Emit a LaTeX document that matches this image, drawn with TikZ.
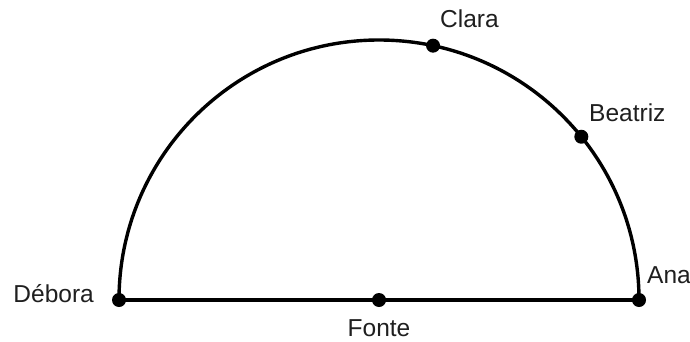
\documentclass[tikz,border=0pt]{standalone}
\usepackage{fontspec}
\setmainfont{Liberation Sans}
\usetikzlibrary{calc}
\begin{document}
\begin{tikzpicture}[x=1pt,y=1pt,
  dot/.style={circle,fill=black,inner sep=0pt,minimum size=14pt},
  lbl/.style={inner sep=0pt,font=\fontsize{24.5}{28}\selectfont,text=black!88},
  line/.style={line width=3.4pt}]
\useasboundingbox (0,0) rectangle (690,341);
\coordinate (c) at (379,41);
\node[dot] (debora) at ($(c)+(180:260)$) {};
\node[dot] (ana) at ($(c)+(0:260)$) {};
\node[dot] (fonte) at (c) {};
\draw[line] (debora.center) -- (fonte.center) -- (ana.center);
\draw[line] (debora.center) arc[start angle=180,end angle=0,radius=260];
\node[dot] (clara) at ($(c)+(78:260)$) {};
\node[dot] (beatriz) at ($(c)+(38.9:260)$) {};
\node[lbl,anchor=base west] (tclara) at (440,313) {Clara};
\node[lbl,anchor=base west] (tbeatriz) at (589,220) {Beatriz};
\node[lbl,anchor=base east] (tdebora) at (94,39) {Débora};
\node[lbl,anchor=base] (tfonte) at (379,5) {Fonte};
\node[lbl,anchor=base west] (tana) at (647,58) {Ana};
\end{tikzpicture}
\end{document}
